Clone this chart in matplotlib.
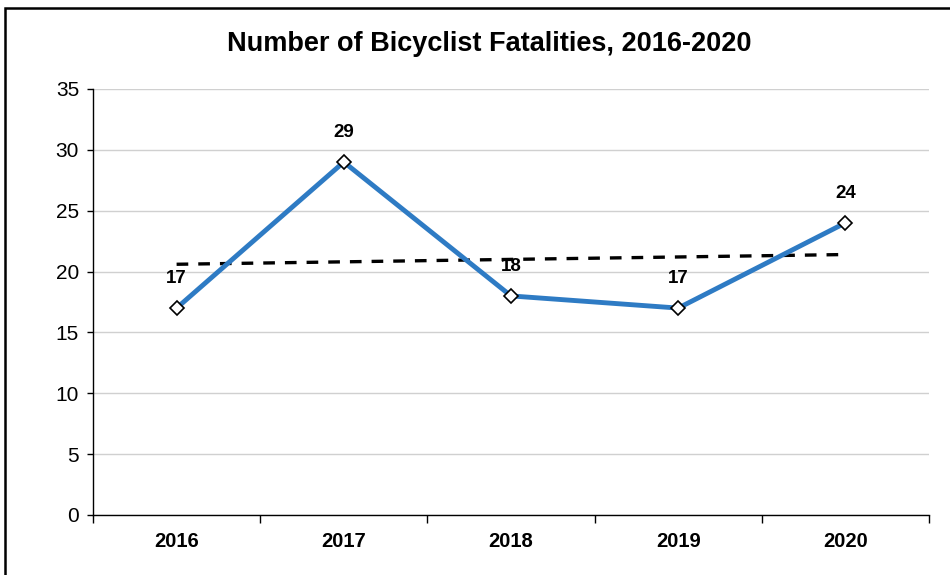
import numpy as np
import matplotlib.pyplot as plt
from matplotlib.patches import Rectangle

plt.rcParams['font.family'] = ['Liberation Sans', 'DejaVu Sans']

years = ["2016", "2017", "2018", "2019", "2020"]
fatalities = [17, 29, 18, 17, 24]
yticks = [0, 5, 10, 15, 20, 25, 30, 35]

x = np.arange(len(years))

fig = plt.figure(figsize=(9.5, 5.75), dpi=100)
ax = fig.add_axes([93 / 950, 1 - 515 / 575, 836 / 950, 426 / 575])

# outer chart border (right/bottom are cropped off in the original)
fig.patches.append(Rectangle((5 / 950, -0.1), 1.2, 1 - 8 / 575 + 0.1,
                             transform=fig.transFigure, fill=False,
                             edgecolor="black", linewidth=1.8))

ax.plot(x, fatalities, color="#2E7BC4", linewidth=3.5, marker="D",
        markersize=7, markerfacecolor="white", markeredgecolor="black",
        markeredgewidth=1.2, zorder=3)

# linear trendline
slope, intercept = np.polyfit(x, fatalities, 1)
ax.plot(x, slope * x + intercept, color="black", linewidth=2.4,
        linestyle=(0, (3.5, 3)), zorder=2)

for xi, v in zip(x, fatalities):
    ax.annotate(str(v), (xi, v), xytext=(0, 21), textcoords="offset points",
                ha="center", va="center", fontsize=13.5, fontweight="bold")

ax.set_xlim(-0.5, len(years) - 0.5)
ax.set_ylim(0, 35)
ax.set_yticks(yticks)
ax.set_xticks(x)
ax.set_xticklabels(years, fontsize=14.5, fontweight="bold")
ax.tick_params(axis="y", labelsize=15, length=4, width=1, pad=6)
ax.tick_params(axis="x", which="major", length=0, pad=12)
ax.set_xticks(np.arange(-0.5, len(years)), minor=True)
ax.tick_params(axis="x", which="minor", length=6, width=1, direction="out")

ax.yaxis.grid(True, color="#d0d0d0", linewidth=1)
ax.set_axisbelow(True)
for s in ["top", "right"]:
    ax.spines[s].set_visible(False)
ax.spines["left"].set_linewidth(1)
ax.spines["bottom"].set_linewidth(1)

fig.text(489 / 950, 1 - 44 / 575, "Number of Bicyclist Fatalities, 2016-2020",
         ha="center", va="center", fontsize=19.5, fontweight="bold")

fig.savefig("out.png", dpi=100)
